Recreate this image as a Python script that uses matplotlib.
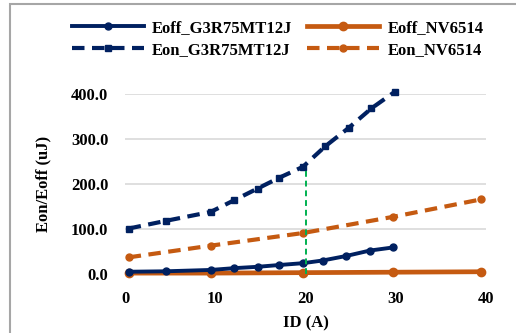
import matplotlib.pyplot as plt
from matplotlib.patches import Rectangle

# data
i_g3r_off = [0.4, 4.5, 9.5, 12.1, 14.7, 17.1, 19.7, 21.9, 24.5, 27.1, 29.7]
eoff_g3r = [5, 6, 9, 13, 16, 20, 24, 30, 40, 52, 59]

i_g3r_on = [0.4, 4.5, 9.5, 12.1, 14.7, 17.1, 19.7, 22.2, 24.8, 27.3, 29.9]
eon_g3r = [101, 118, 138, 164, 190, 214, 238, 284, 325, 368, 405]

i_nv = [0.4, 9.5, 19.7, 29.7, 39.5]
eoff_nv = [2, 2, 3, 4, 5]
eon_nv = [37, 63, 91, 127, 166]

marker_i = 20
marker_e = 238

navy = '#002060'
orange = '#C55A11'
green = '#00B050'

plt.rcParams['font.family'] = ['Liberation Serif', 'DejaVu Serif']
plt.rcParams['font.weight'] = 'bold'

fig = plt.figure(figsize=(5.16, 3.33), dpi=100)
ax = fig.add_axes([125 / 516, 59 / 333, 361 / 516, 180 / 333])

l1, = ax.plot(i_g3r_off, eoff_g3r, color=navy, lw=2.8, marker='o', ms=5,
              label='Eoff_G3R75MT12J', clip_on=False, zorder=4)
l2, = ax.plot(i_nv, eoff_nv, color=orange, lw=3.4, marker='o', ms=6,
              label='Eoff_NV6514', clip_on=False, zorder=3)
l3, = ax.plot(i_g3r_on, eon_g3r, color=navy, lw=3, ls=(0, (3, 1.8)), marker='s', ms=5,
              label='Eon_G3R75MT12J', clip_on=False, zorder=4)
l4, = ax.plot(i_nv, eon_nv, color=orange, lw=3, ls=(0, (3, 1.8)), marker='o', ms=5,
              label='Eon_NV6514', clip_on=False, zorder=3)
ax.plot([marker_i, marker_i], [0, marker_e], color=green, lw=1.4, ls=(0, (3, 2)), zorder=5)

ax.set_xlim(0, 40)
ax.set_ylim(0, 400)
ax.set_xticks([0, 10, 20, 30, 40])
ax.set_yticks([0, 100, 200, 300, 400])
ax.set_yticklabels(['0.0', '100.0', '200.0', '300.0', '400.0'])
ax.grid(axis='y', color='#d9d9d9', lw=1.2)
ax.set_axisbelow(True)
for s in ax.spines.values():
    s.set_visible(False)
ax.tick_params(length=0, labelsize=12)
ax.tick_params(axis='y', pad=12)
ax.tick_params(axis='x', pad=12)
for lab in ax.get_xticklabels() + ax.get_yticklabels():
    lab.set_fontweight('bold')

ax.set_xlabel('ID (A)', fontsize=12, fontweight='bold', labelpad=6)
ax.set_ylabel('Eon/Eoff (uJ)', fontsize=12, fontweight='bold', labelpad=14)

fig.legend(handles=[l1, l3, l2, l4], loc='upper left',
           bbox_to_anchor=(57 / 516, 1 - 5 / 333), ncol=2,
           frameon=False, handlelength=4.3, handletextpad=0.5, columnspacing=0.9,
           labelspacing=0.35, prop={'weight': 'bold', 'size': 12})

fig.patches.append(Rectangle((10 / 516, -0.1), 1.2, 1 - 4 / 333 + 0.1,
                             transform=fig.transFigure, fill=False,
                             edgecolor='#a6a6a6', lw=1.5))

fig.savefig('out.png', dpi=100)
